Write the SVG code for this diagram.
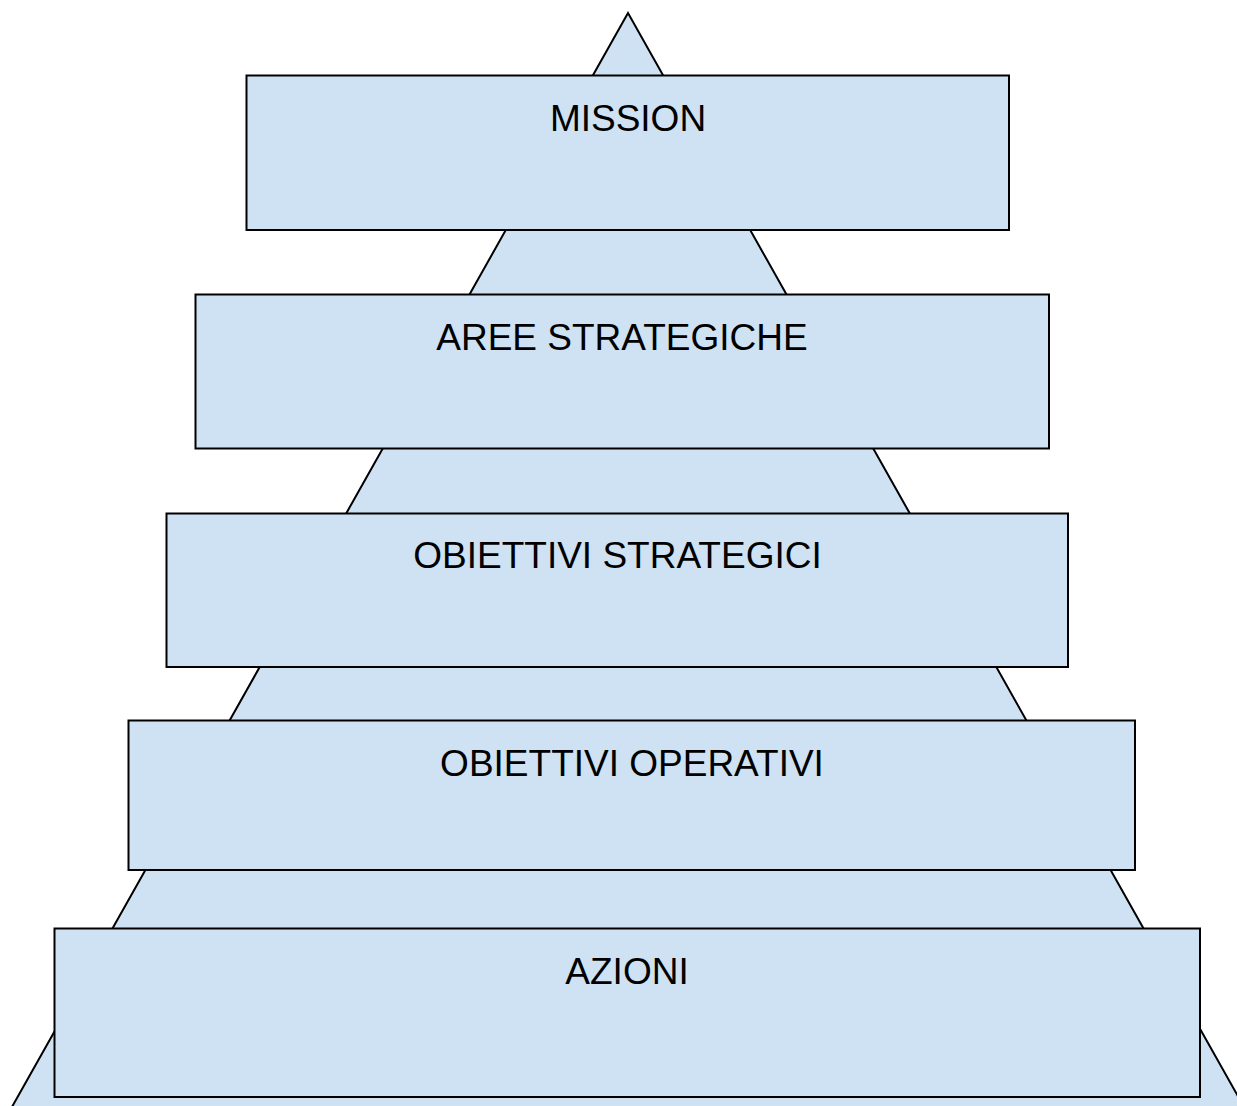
<svg xmlns="http://www.w3.org/2000/svg" width="1237" height="1106" viewBox="0 0 1237 1106">
<style>
.shape{fill:#cfe2f3;stroke:#000;stroke-width:2}
.lbl{font-family:"Liberation Sans",Arial,sans-serif;font-size:37px;fill:#000;text-anchor:middle}
</style>
<rect width="1237" height="1106" fill="#fff"/>
<g id="pyramid"><polygon class="shape" points="628,13 8,1114 1248,1114"/></g>
<g id="connectors"></g>
<g id="mission"><rect class="shape" x="246.5" y="75.5" width="762.5" height="154.5"/><text class="lbl" x="628" y="131">MISSION</text></g>
<g id="aree-strategiche"><rect class="shape" x="195.5" y="294.5" width="853.5" height="154"/><text class="lbl" x="622" y="350">AREE STRATEGICHE</text></g>
<g id="obiettivi-strategici"><rect class="shape" x="166.5" y="513.5" width="901.5" height="153.5"/><text class="lbl" x="617.5" y="568">OBIETTIVI STRATEGICI</text></g>
<g id="obiettivi-operativi"><rect class="shape" x="128.5" y="720.5" width="1006.5" height="149.5"/><text class="lbl" x="632" y="776">OBIETTIVI OPERATIVI</text></g>
<g id="azioni"><rect class="shape" x="54.5" y="928.5" width="1145.5" height="168.5"/><text class="lbl" x="627" y="984">AZIONI</text></g>
</svg>
